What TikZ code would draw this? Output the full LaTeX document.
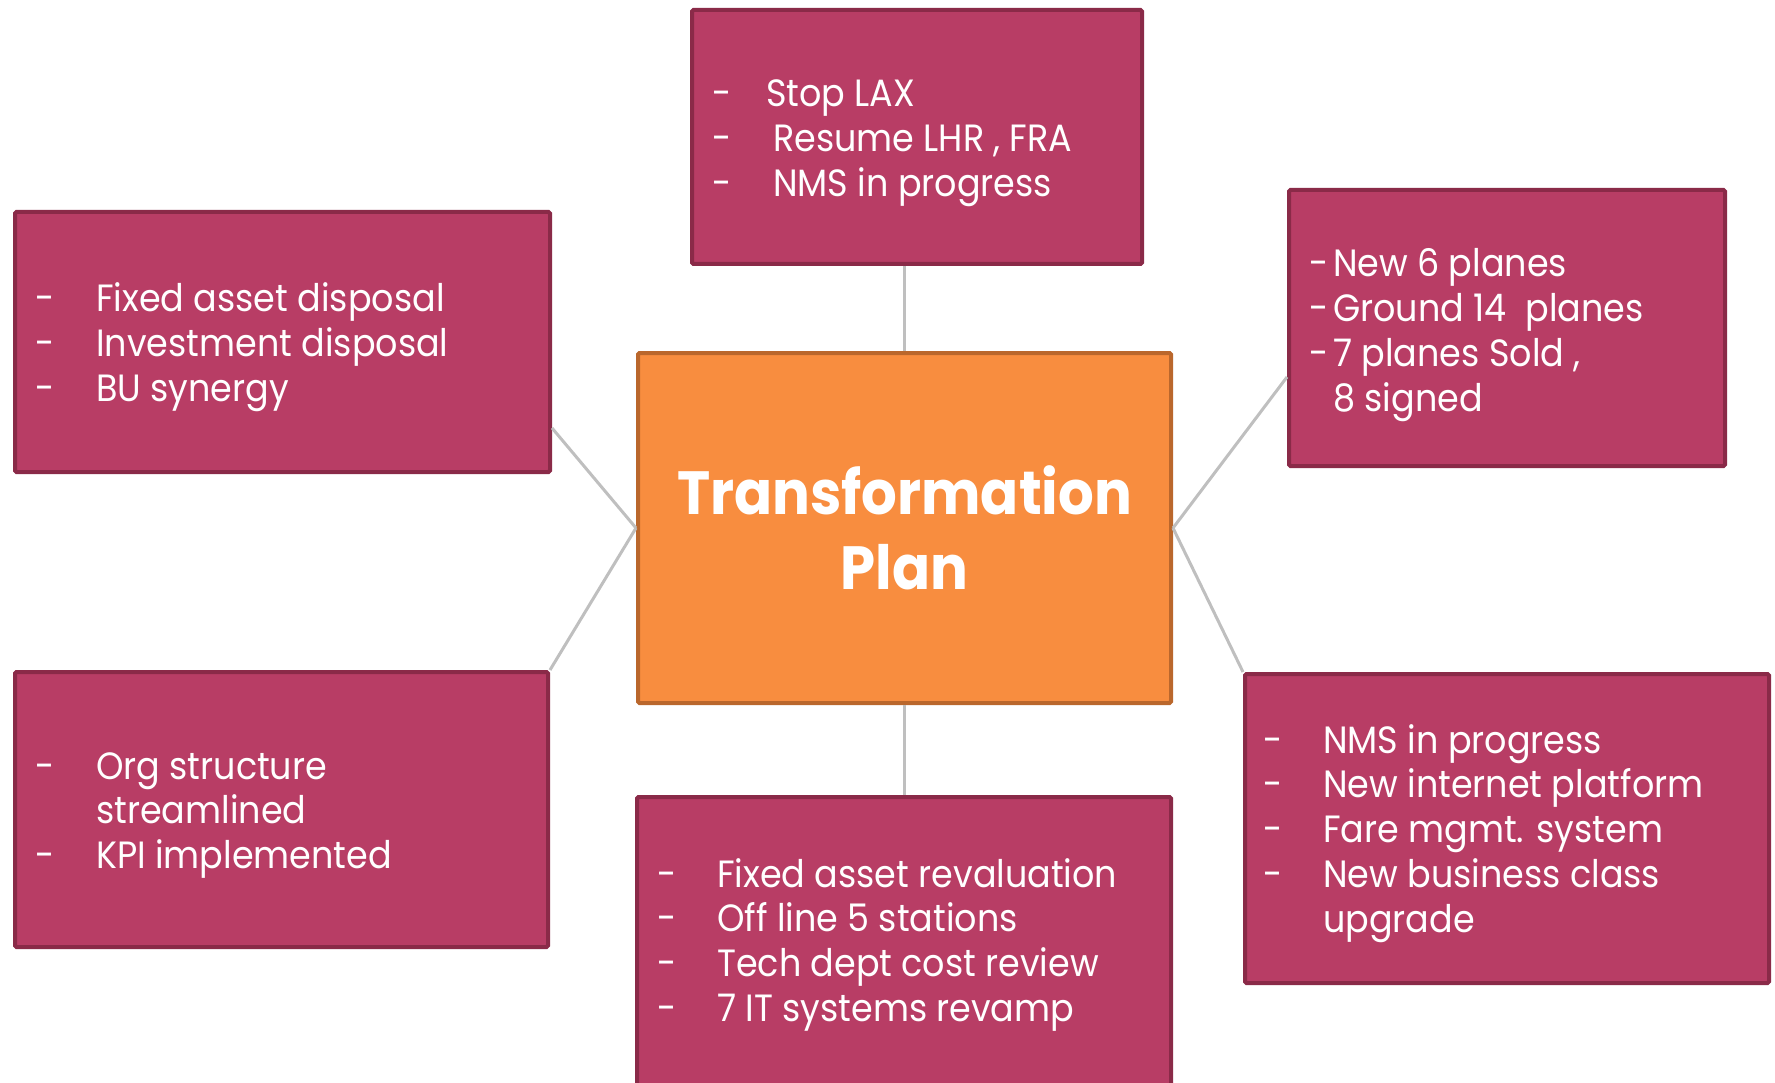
\documentclass[tikz,border=0pt]{standalone}
\usepackage{fontspec}
\setmainfont{Poppins}[FakeStretch=0.92]
\usetikzlibrary{calc}
\definecolor{boxfill}{HTML}{B83D65}
\definecolor{boxline}{HTML}{8A2A48}
\definecolor{hubfill}{HTML}{F88D3F}
\definecolor{hubline}{HTML}{BA672C}
\definecolor{linkgray}{HTML}{BFBFBF}
\newcommand\dashitem[2]{\makebox[#1][l]{-}#2}
\begin{document}
\begin{tikzpicture}[x=1pt,y=-1pt,
  panel/.style={draw=boxline, fill=boxfill, line width=4pt, rounded corners=1.5pt, inner sep=0pt},
  hubbox/.style={draw=hubline, fill=hubfill, line width=4pt, rounded corners=1.5pt, inner sep=0pt,
    text=white, align=center, font=\bfseries\fontsize{61}{75}\selectfont},
  listtext/.style={anchor=base west, inner sep=0pt, text=white, font=\fontsize{38}{44.8}\selectfont},
  connector/.style={draw=linkgray, line width=3pt}]
\useasboundingbox (0,0) rectangle (1775,1083);
\clip (0,0) rectangle (1775,1083);

% boxes
\node[panel, minimum width=450pt, minimum height=254pt] (TB) at (917,137) {};
\node[panel, minimum width=535pt, minimum height=260pt] (LT) at (282.5,342) {};
\node[panel, minimum width=436pt, minimum height=276pt] (RT) at (1507,328) {};
\node[panel, minimum width=533pt, minimum height=275pt] (LB) at (281.5,809.5) {};
\node[panel, minimum width=534pt, minimum height=326pt] (BB) at (904,960) {};
\node[panel, minimum width=524pt, minimum height=309pt] (RB) at (1507,828.5) {};
\node[hubbox, minimum width=533pt, minimum height=350pt] (hub) at (904.5,528) {Transformation\\Plan};

% connectors
\draw[connector] (hub.north) -- (hub.north |- TB.south);
\draw[connector] (hub.south) -- (hub.south |- BB.north);
\draw[connector] (hub.west) -- (LT.east |- 0,428);
\draw[connector] (hub.west) -- (LB.north east);
\draw[connector] (hub.east) -- (RT.west |- 0,377);
\draw[connector] (hub.east) -- (RB.north west);

% texts
\node[listtext] (TBtext) at (712,107) {\begin{tabular}[t]{@{}l@{}}
\dashitem{54pt}{Stop LAX}\\
\dashitem{61pt}{Resume LHR , FRA}\\
\dashitem{61pt}{NMS in progress}
\end{tabular}};
\node[listtext] (LTtext) at (35,312) {\begin{tabular}[t]{@{}l@{}}
\dashitem{61pt}{Fixed asset disposal}\\
\dashitem{61pt}{Investment disposal}\\
\dashitem{61pt}{BU synergy}
\end{tabular}};
\node[listtext] (RTtext) at (1309,277) {\begin{tabular}[t]{@{}l@{}}
\dashitem{24pt}{New 6 planes}\\
\dashitem{24pt}{Ground 14\ \ planes}\\
\dashitem{24pt}{7 planes Sold ,}\\
\hspace*{24pt}8 signed
\end{tabular}};
\node[listtext] (LBtext) at (35,779) {\begin{tabular}[t]{@{}l@{}}
\dashitem{61pt}{Org structure}\\
\hspace*{61pt}streamlined\\
\dashitem{61pt}{KPI implemented}
\end{tabular}};
\node[listtext] (BBtext) at (657,887) {\begin{tabular}[t]{@{}l@{}}
\dashitem{60pt}{Fixed asset revaluation}\\
\dashitem{60pt}{Off line 5 stations}\\
\dashitem{60pt}{Tech dept cost review}\\
\dashitem{60pt}{7 IT systems revamp}
\end{tabular}};
\node[listtext] (RBtext) at (1263,753) {\begin{tabular}[t]{@{}l@{}}
\dashitem{60pt}{NMS in progress}\\
\dashitem{60pt}{New internet platform}\\
\dashitem{60pt}{Fare mgmt. system}\\
\dashitem{60pt}{New business class}\\
\hspace*{60pt}upgrade
\end{tabular}};
\end{tikzpicture}
\end{document}
